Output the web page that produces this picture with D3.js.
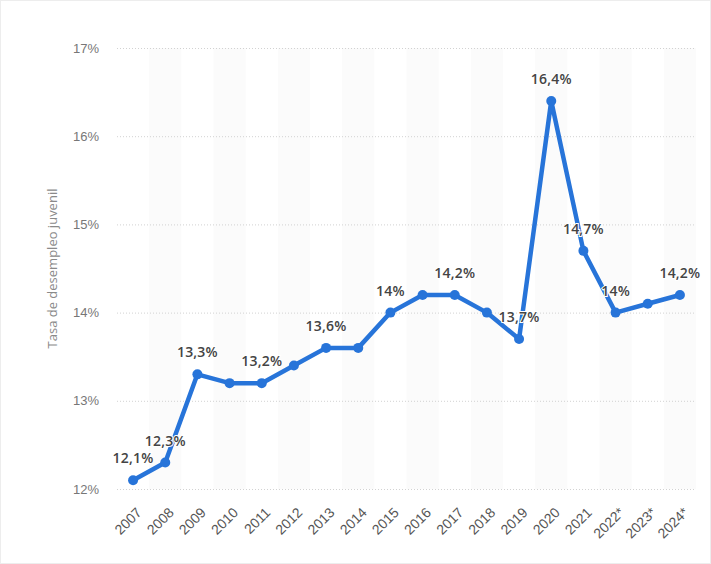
<!DOCTYPE html>
<html>
<head>
<meta charset="utf-8">
<script src="https://cdn.jsdelivr.net/npm/d3@7"></script>
<style>
  body { margin: 0; background: #fff; }
  svg { display: block; font-family: "Open Sans", "DejaVu Sans", sans-serif; }
</style>
</head>
<body>
<svg id="chart" width="711" height="564"></svg>
<script>
// years on the x axis (asterisk = forecast)
var years = ["2007", "2008", "2009", "2010", "2011", "2012", "2013", "2014", "2015",
    "2016", "2017", "2018", "2019", "2020", "2021", "2022*", "2023*", "2024*"]
// youth unemployment rate, %
var rates = [12.1, 12.3, 13.3, 13.2, 13.2, 13.4, 13.6, 13.6, 14.0,
    14.2, 14.2, 14.0, 13.7, 16.4, 14.7, 14.0, 14.1, 14.2]
// which points carry a value label
var labelled = ["2007", "2008", "2009", "2011", "2013", "2015", "2017", "2019",
    "2020", "2021", "2022*", "2024*"]
var yTicks = [12, 13, 14, 15, 16, 17]
var yTitle = "Tasa de desempleo juvenil"

var svg = d3.select("#chart")
var width = +svg.attr("width")
var height = +svg.attr("height")

var margin = {top: 48, right: 15, bottom: 75, left: 117}

var x = d3.scaleBand()
    .domain(years)
    .range([margin.left, width - margin.right])

var y = d3.scaleLinear()
    .domain([12, 17])
    .range([height - margin.bottom, margin.top])

// faint frame
svg.append("rect")
    .attr("x", 0.5).attr("y", 0.5)
    .attr("width", width - 1).attr("height", height - 1)
    .attr("fill", "none")
    .attr("stroke", "#ededed")

// alternating column shading
svg.append("g")
    .selectAll("rect")
    .data(years.filter(function (d, i) { return i % 2 == 1 }))
    .enter().append("rect")
    .attr("x", function (d) { return x(d) })
    .attr("y", y(17))
    .attr("width", x.bandwidth())
    .attr("height", y(12) - y(17))
    .attr("fill", "#fbfbfb")

// y axis with dotted gridlines
var yAxis = svg.append("g")
    .attr("transform", "translate(" + margin.left + ",0)")
    .call(d3.axisLeft(y)
        .tickValues(yTicks)
        .tickSize(-(width - margin.left - margin.right))
        .tickPadding(18)
        .tickFormat(function (d) { return d + "%" }))
yAxis.select(".domain").remove()
yAxis.selectAll("line")
    .attr("stroke", "#d2d2d2")
    .attr("stroke-dasharray", "1,2")
yAxis.selectAll("text")
    .attr("fill", "#777")
    .style("font-size", "13px")

svg.append("text")
    .attr("transform", "translate(57," + ((y(12) + y(17)) / 2) + ") rotate(-90)")
    .attr("text-anchor", "middle")
    .attr("fill", "#8a8a8a")
    .style("font-size", "13px")
    .text(yTitle)

// x axis, rotated labels
var xAxis = svg.append("g")
    .attr("transform", "translate(0," + (height - margin.bottom) + ")")
    .call(d3.axisBottom(x).tickSize(0).tickPadding(0))
xAxis.select(".domain").remove()
xAxis.selectAll(".tick text")
    .attr("fill", "#555")
    .style("font-size", "14px")
    .style("text-anchor", "end")
    .attr("x", 0)
    .attr("y", 0)
    .attr("dy", "0.35em")
    .attr("transform", "translate(6,21) rotate(-45)")

var cx = function (d, i) { return x(years[i]) + x.bandwidth() / 2 }

var line = d3.line()
    .x(cx)
    .y(function (d) { return y(d) })

svg.append("path")
    .datum(rates)
    .attr("d", line)
    .attr("fill", "none")
    .attr("stroke", "#2774d9")
    .attr("stroke-width", 4.5)
    .attr("stroke-linejoin", "round")

svg.append("g")
    .selectAll("circle")
    .data(rates)
    .enter().append("circle")
    .attr("cx", cx)
    .attr("cy", function (d) { return y(d) })
    .attr("r", 5)
    .attr("fill", "#2774d9")

// value labels
svg.append("g")
    .selectAll("text")
    .data(rates.map(function (d, i) { return {v: d, i: i} })
        .filter(function (d) { return labelled.indexOf(years[d.i]) >= 0 }))
    .enter().append("text")
    .attr("x", function (d) { return cx(d.v, d.i) })
    .attr("y", function (d) { return y(d.v) - 17 })
    .attr("text-anchor", "middle")
    .attr("fill", "#444")
    .attr("stroke", "#fff")
    .attr("stroke-width", 2)
    .attr("paint-order", "stroke")
    .style("font-size", "14px")
    .style("font-weight", 600)
    .style("letter-spacing", "0.2px")
    .text(function (d) { return String(d.v).replace(".", ",") + "%" })
</script>
</body>
</html>
